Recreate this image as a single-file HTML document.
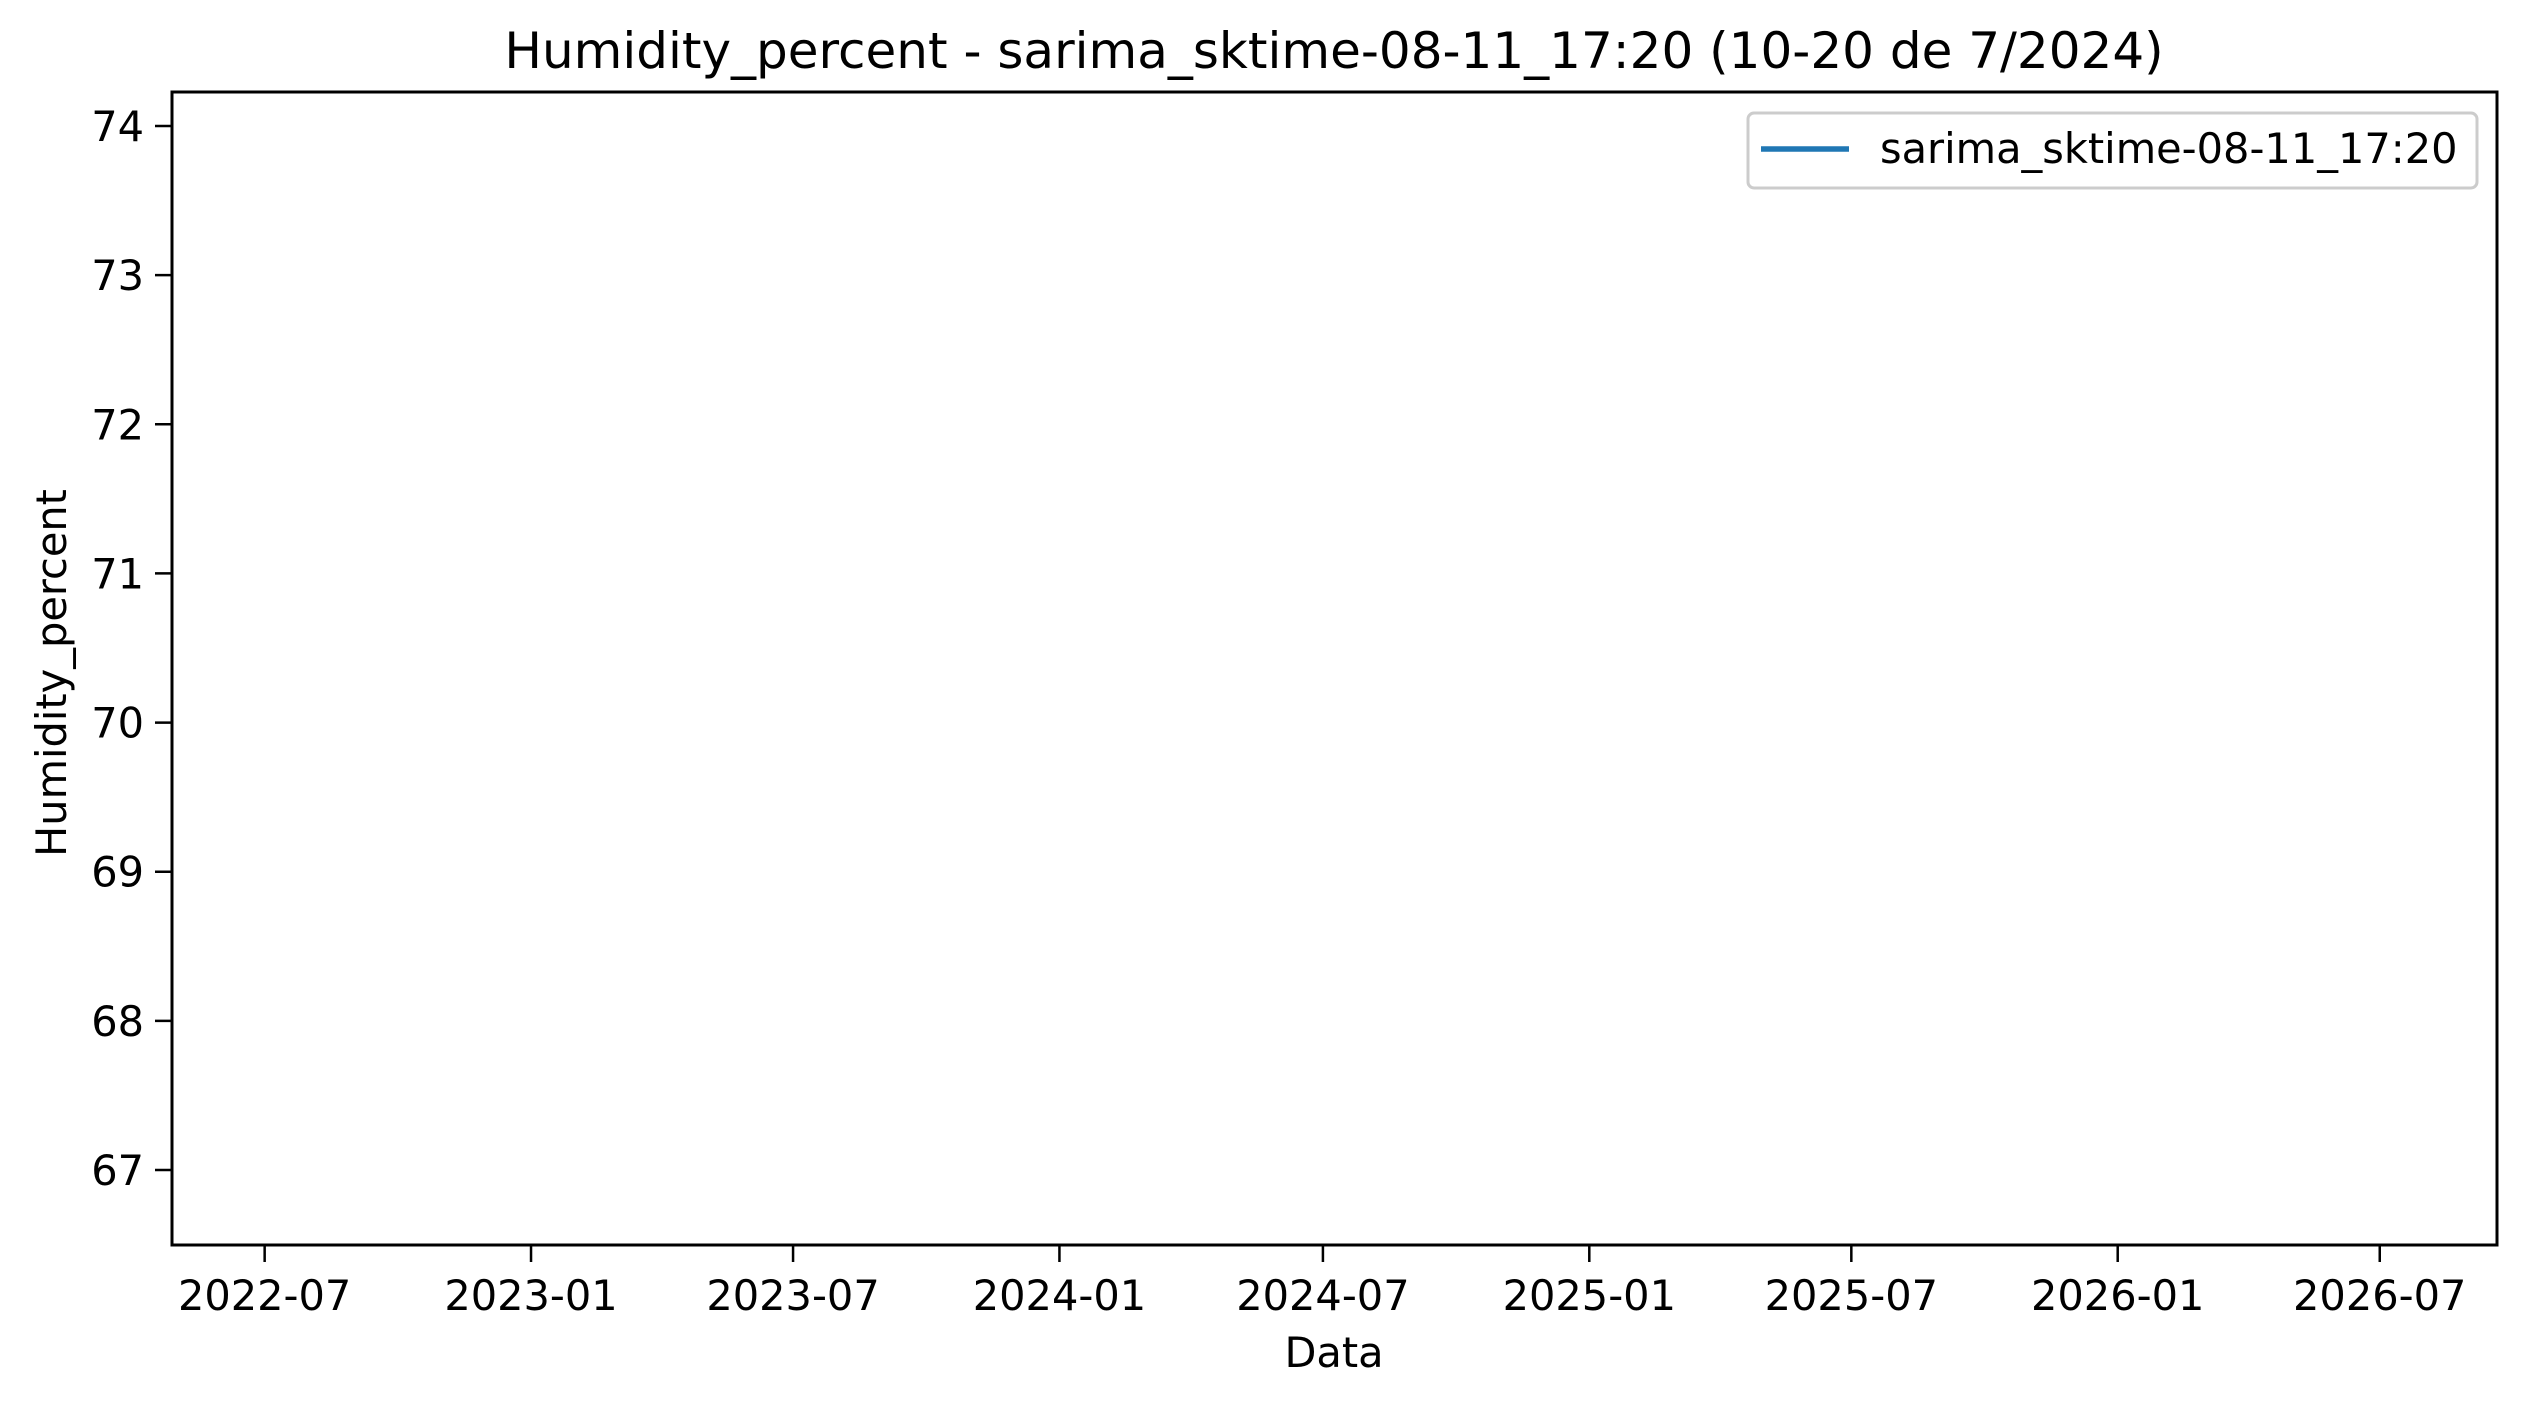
<!DOCTYPE html>
<html><head><meta charset="utf-8"><style>
html,body{margin:0;padding:0;background:#fff;}
svg{display:block;font-family:"DejaVu Sans","Liberation Sans",sans-serif;}
</style></head><body>
<svg id="chart" width="2526" height="1407" viewBox="0 0 2526 1407" xmlns="http://www.w3.org/2000/svg">
<rect width="2526" height="1407" fill="#fff"/>
<text x="1334" y="68" font-size="50" text-anchor="middle">Humidity_percent - sarima_sktime-08-11_17:20 (10-20 de 7/2024)</text>
<g id="yticks"></g><g id="xticks"></g>
<g id="series"></g>
<rect x="172" y="92" width="2325" height="1153" fill="none" stroke="#000" stroke-width="3"/>
<text x="1334" y="1367" font-size="41.5" text-anchor="middle">Data</text>
<text x="0" y="0" font-size="41.5" text-anchor="middle" transform="translate(66,673) rotate(-90)">Humidity_percent</text>
<g>
<rect x="1748" y="113" width="729" height="75" rx="6" fill="#fff" stroke="#ccc" stroke-width="3"/>
<line x1="1761" y1="149" x2="1849" y2="149" stroke="#1f77b4" stroke-width="5.5"/>
<text x="1880" y="163" font-size="41.5">sarima_sktime-08-11_17:20</text>
</g>
</svg>
<script>
const yTickValues = [67, 68, 69, 70, 71, 72, 73, 74];
const xTickLabels = ["2022-07","2023-01","2023-07","2024-01","2024-07","2025-01","2025-07","2026-01","2026-07"];
const seriesDates = [];
const seriesValues = [];
const L=172,R=2497,T=92,B=1245;
const yMin=66.497,yMax=74.228;
const xMin=Date.UTC(2022,3,28),xMax=Date.UTC(2026,8,20);
function yS(v){return B-(v-yMin)/(yMax-yMin)*(B-T);}
function xS(t){return L+(t-xMin)/(xMax-xMin)*(R-L);}
function toT(s){const p=s.split('-');return Date.UTC(+p[0],+p[1]-1,p[2]?+p[2]:1);}
const NS='http://www.w3.org/2000/svg';
const yg=document.getElementById('yticks'),xg=document.getElementById('xticks');
yTickValues.forEach(v=>{
  const y=yS(v);
  const ln=document.createElementNS(NS,'line');
  
  
  ln.setAttribute('x1',L-17);ln.setAttribute('x2',L);ln.setAttribute('y1',y);ln.setAttribute('y2',y);
  ln.setAttribute('stroke','#000');ln.setAttribute('stroke-width','2.5');yg.appendChild(ln);
  const tx=document.createElementNS(NS,'text');
  
  
  tx.setAttribute('x',L-28);tx.setAttribute('y',y+15);tx.setAttribute('font-size','41.5');tx.setAttribute('text-anchor','end');
  tx.textContent=v;yg.appendChild(tx);
});
xTickLabels.forEach(s=>{
  const x=xS(toT(s));
  const ln=document.createElementNS(NS,'line');
  
  
  ln.setAttribute('x1',x);ln.setAttribute('x2',x);ln.setAttribute('y1',B);ln.setAttribute('y2',B+17);
  ln.setAttribute('stroke','#000');ln.setAttribute('stroke-width','2.5');xg.appendChild(ln);
  const tx=document.createElementNS(NS,'text');
  
  
  tx.setAttribute('x',x);tx.setAttribute('y',B+65);tx.setAttribute('font-size','41.5');tx.setAttribute('text-anchor','middle');
  tx.textContent=s;xg.appendChild(tx);
});
if(seriesDates.length){
  const pl=document.createElementNS(NS,'polyline');
  
  
  pl.setAttribute('points',seriesDates.map((d,i)=>xS(toT(d))+','+yS(seriesValues[i])).join(' '));
  pl.setAttribute('fill','none');pl.setAttribute('stroke','#1f77b4');pl.setAttribute('stroke-width','4.5');
  document.getElementById('series').appendChild(pl);
}
</script>
</body></html>
